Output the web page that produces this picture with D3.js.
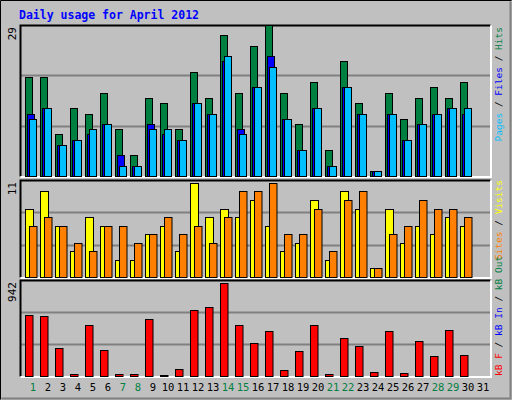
<!DOCTYPE html>
<html><head><meta charset="utf-8">
<script src="https://cdn.jsdelivr.net/npm/d3@7"></script>
<style>body{margin:0;background:#fff}</style>
</head><body>
<svg id="chart" width="512" height="400"></svg>
<script>
// daily values, April 2012
var days = d3.range(1, 32);
var weekends = [1, 7, 8, 14, 15, 21, 22, 28, 29];
var hits   = [19,19,8,13,12,16,9,4,15,14,9,20,15,27,16,25,29,16,10,18,5,22,14,1,16,11,15,17,15,18,0];
var files  = [12,13,6,7,8,10,4,2,10,8,7,14,12,22,9,17,23,11,5,13,2,17,12,1,12,7,10,12,13,12,0];
var pages  = [11,13,6,7,9,10,2,2,9,9,7,14,12,23,8,17,21,11,5,13,2,17,12,1,12,7,10,12,13,13,0];
var visits = [8,10,6,3,7,6,2,2,5,6,3,11,7,8,7,9,6,3,4,9,2,10,8,1,8,4,6,5,7,6,0];
var sites  = [6,7,6,4,3,6,6,4,5,7,5,6,4,7,10,10,11,5,5,8,3,9,10,1,5,6,9,8,8,7,0];
var kbytes = [622,612,282,24,519,261,24,24,581,10,76,674,705,942,519,333,457,65,251,519,24,385,303,45,457,34,354,199,468,210,0];

var svg = d3.select("#chart");
var font = "'DejaVu Sans Mono', monospace";

// background + outer bevel
svg.append("rect").attr("width", 512).attr("height", 400).attr("fill", "#c0c0c0");
svg.append("path").attr("d", "M0.5,399.5V0.5H511.5").attr("stroke", "#000").attr("fill", "none");
svg.append("path").attr("d", "M1.5,398.5H510.5V1.5").attr("stroke", "#808080").attr("stroke-width", 2).attr("fill", "none");

svg.append("text").attr("x", 19).attr("y", 19).attr("fill", "#0000ff")
    .attr("font-family", font).attr("font-weight", "bold").attr("font-size", 11.5)
    .text("Daily usage for April 2012");

var x = d3.scaleLinear().domain([1, 32]).range([25, 25 + 31 * 15]);   // one day = 15px

var panels = [
    { top: 25, bottom: 176, max: 29 },
    { top: 180, bottom: 277, max: 11 * 1.03 },
    { top: 280, bottom: 376, max: 942 * 1.035 }
];

panels.forEach(function (p) {
    p.y = d3.scaleLinear().domain([0, p.max]).range([p.bottom, p.top]);
    var h = p.bottom - p.top;
    [1 / 3, 2 / 3].forEach(function (f) {
        svg.append("line").attr("x1", 21).attr("x2", 490)
            .attr("y1", Math.round(p.top + h * f) + 0.5).attr("y2", Math.round(p.top + h * f) + 0.5)
            .attr("stroke", "#808080").attr("stroke-width", 2);
    });
    svg.append("path").attr("d", "M20.5," + (p.bottom + 0.5) + "V" + (p.top + 0.5) + "H490.5")
        .attr("stroke", "#000").attr("stroke-width", 2).attr("fill", "none");
    svg.append("path").attr("d", "M20.5," + (p.bottom + 1) + "H491V" + (p.top + 0.5))
        .attr("stroke", "#fff").attr("stroke-width", 2).attr("fill", "none");
});

function bars(panel, data, dx, w, fill) {
    svg.append("g").selectAll("rect")
        .data(data.map(function (v, i) { return { v: v, d: days[i] }; }).filter(function (o) { return o.v > 0; }))
        .enter().append("rect")
        .attr("x", function (o) { return x(o.d) + dx + 0.5; })
        .attr("y", function (o) { return Math.round(panel.y(o.v)) + 0.5; })
        .attr("width", w)
        .attr("height", function (o) { return panel.bottom - Math.round(panel.y(o.v)); })
        .attr("fill", fill).attr("stroke", "#000").attr("stroke-width", 1);
}

bars(panels[0], hits, 0, 7, "#008040");
bars(panels[0], files, 2, 7, "#0000ff");
bars(panels[0], pages, 4, 7, "#00bfff");
bars(panels[1], visits, 0, 8, "#ffff00");
bars(panels[1], sites, 4, 7.5, "#ff8000");
bars(panels[2], kbytes, 0, 7.5, "#ff0000");

// max labels on the left
[["29", 0], ["11", 1], ["942", 2]].forEach(function (m) {
    var p = panels[m[1]];
    svg.append("text").attr("transform", "translate(16," + (p.top + 2) + ") rotate(-90)")
        .attr("text-anchor", "end").attr("font-family", font).attr("font-size", 11)
        .attr("fill", "#000").text(m[0]);
});

// day labels
svg.append("g").selectAll("text").data(days).enter().append("text")
    .attr("x", function (d) { return x(d) + 8; })
    .attr("y", 391)
    .attr("text-anchor", "middle").attr("font-family", font).attr("font-size", 10.5)
    .attr("fill", function (d) { return weekends.indexOf(d) >= 0 ? "#008040" : "#000"; })
    .text(function (d) { return d; });

// right side legends
function legend(yPos, anchor, parts) {
    var t = svg.append("text").attr("transform", "translate(502," + yPos + ") rotate(-90)")
        .attr("text-anchor", anchor).attr("font-family", font).attr("font-size", 9.5);
    parts.forEach(function (p) { t.append("tspan").attr("fill", p[1]).text(p[0]); });
}
legend(27, "end", [["Pages", "#00bfff"], [" / ", "#000"], ["Files", "#0000ff"], [" / ", "#000"], ["Hits", "#008040"]]);
legend(180, "end", [["Sites", "#ff8000"], [" / ", "#000"], ["Visits", "#ffff00"]]);
legend(376, "start", [["kB F", "#ff0000"], [" / ", "#000"], ["kB In", "#0000ff"], [" / ", "#000"], ["kB Out", "#008040"]]);
</script>
</body></html>
